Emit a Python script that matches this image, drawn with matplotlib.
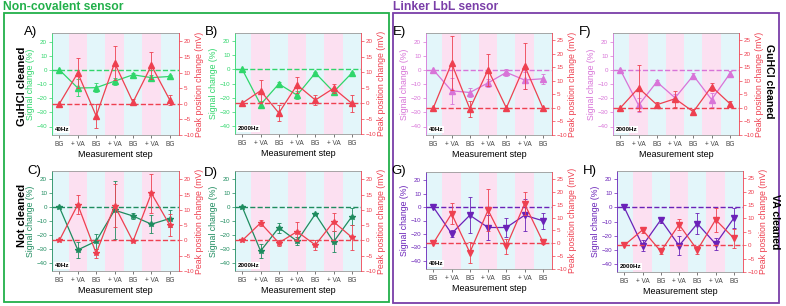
import matplotlib
matplotlib.use("Agg")
import matplotlib.pyplot as plt
from matplotlib.patches import Rectangle

plt.rcParams['font.family'] = ['Liberation Sans', 'DejaVu Sans']

steps = ['BG', '+ VA', 'BG', '+ VA', 'BG', '+ VA', 'BG']

# signal change (%) and peak position change (mV), with error bars
sig_A = [0, -12.8, -12.6, -8, -3.5, -5.5, -4.7]
sig_A_err = [0, 6, 3, 2.5, 1, 2, 1]
peak_A = [0, 9.9, -3.9, 13.1, 0.5, 12.3, 1.2]
peak_A_err = [0, 4.7, 3.8, 5.5, 1, 4.4, 1.7]

sig_B = [0, -25, -10.3, -18.3, -2.5, -16, -2.5]
sig_B_err = [0, 2.5, 1.5, 3, 1, 2, 1]
peak_B = [0, 4, -3.2, 5.9, 1, 4.8, -0.1]
peak_B_err = [0, 3.5, 2.5, 2.5, 1.5, 1.5, 2.8]

sig_C = [0, -30.8, -24.5, -2.2, -6.4, -12.3, -8.2]
sig_C_err = [0, 6, 5.5, 21, 2, 6.5, 6]
peak_C = [0, 11.7, -4.2, 11.4, -0.3, 15.4, 5]
peak_C_err = [0, 3.2, 1.5, 7, 0, 6.4, 3.5]

sig_D = [0, -31.6, -14.8, -24.5, -5, -25, -6.8]
sig_D_err = [0, 5, 3.5, 3, 1, 7.5, 6]
peak_D = [0, 5.7, -0.8, 2.9, -1.5, 6.1, 1]
peak_D_err = [0, 1, 1, 3.2, 1.5, 3, 4]

sig_E = [0, -14.8, -16, -9.2, -1.8, -7.2, -6.3]
sig_E_err = [0, 9, 3.5, 3, 2.5, 6, 3.5]
peak_E = [0, 16.5, -0.3, 14.1, 0, 15.6, 0]
peak_E_err = [0, 10, 3, 6, 0, 8.5, 0]

sig_F = [0, -25, -8.5, -19.8, -4, -21, -2.7]
sig_F_err = [0, 5, 1.5, 3, 1.5, 5, 2]
peak_F = [0, 7.4, 1.2, 3.4, -1.4, 7.9, 1.6]
peak_F_err = [0, 8.5, 1, 3, 1, 1.5, 1]

sig_G = [0, -19.7, -6.1, -15.2, -15.2, -6.1, -10.2]
sig_G_err = [0, 2.5, 13.5, 9, 7, 12, 6]
peak_G = [0, 11.5, -3.6, 12.9, -1.2, 15.3, 0.6]
peak_G_err = [0, 4.2, 4.2, 8, 2.8, 4.5, 1]

sig_H = [0, -27.2, -8.8, -27.2, -11.5, -26, -7.6]
sig_H_err = [0, 4, 2, 7, 7.5, 4.5, 7]
peak_H = [0, 5.7, -2.3, 7.7, -1.8, 9.5, 2.6]
peak_H_err = [0, 1, 1, 2, 1.5, 4.5, 3.5]

W, H = 786, 306
red = '#ee4050'
green = '#2fd66b'
teal = '#1e8c5f'
pink = '#d874d8'
purple = '#6a22b8'


def rect(l, t, r, b):
    return [l / W, 1 - b / H, (r - l) / W, (b - t) / H]


fig = plt.figure(figsize=(W / 100, H / 100), dpi=100)


def panel(pos, letter, freq, sig, sig_err, peak, peak_err, color, marker, ptop):
    ax = fig.add_axes(rect(*pos))
    x = list(range(len(steps)))
    for i in x:
        ax.axvspan(i - 0.5, i + 0.5, color='#fce0f1' if i % 2 else '#e3f6fa', lw=0, zorder=0)
    ax.set_xlim(-0.4, 6.5)
    ax.set_ylim(-46, 26)
    ax.axhline(0, color=color, ls='--', lw=1, zorder=1)
    ax.errorbar(x, sig, yerr=sig_err, color=color, marker=marker, ms=4, lw=0.9,
                elinewidth=0.6, capsize=1.5, capthick=0.6, zorder=3)
    ax.set_xticks(x)
    ax.set_xticklabels(steps)
    ax.set_yticks(range(-40, 21, 10))
    ax.tick_params(axis='x', labelsize=4.7, length=2, width=0.5, pad=2, colors='#444444')
    ax.tick_params(axis='y', labelsize=4.5, length=2, width=0.5, pad=1.5, colors=color)
    ax.set_xlabel('Measurement step', fontsize=6.5, labelpad=2)
    ax.set_ylabel('Signal change (%)', fontsize=6.3, color=color, labelpad=1)
    for s in ['top', 'bottom']:
        ax.spines[s].set_color('#999999')
        ax.spines[s].set_linewidth(0.6)
    ax.spines['left'].set_color(color)
    ax.spines['left'].set_linewidth(0.6)
    ax.spines['right'].set_visible(False)
    ax.text(0.02, 0.04, freq, transform=ax.transAxes, fontsize=4.5, weight='bold',
            zorder=5, bbox=dict(facecolor='white', edgecolor='none', pad=0.6))

    ax2 = ax.twinx()
    ax2.set_ylim(-10, ptop + 2.7)
    ax2.axhline(0, color=red, ls='--', lw=1, zorder=1)
    ax2.errorbar(x, peak, yerr=peak_err, color=red, marker=marker, ms=4, lw=0.9,
                 elinewidth=0.6, capsize=1.5, capthick=0.6, zorder=3)
    ax2.set_yticks(range(-10, ptop + 1, 5))
    ax2.tick_params(axis='y', labelsize=4.5, length=2, width=0.5, pad=1.2, colors=red)
    ax2.set_ylabel('Peak position change (mV)', fontsize=6.3, color=red, labelpad=1)
    ax2.spines['right'].set_color(red)
    ax2.spines['right'].set_linewidth(0.6)
    for s in ['top', 'bottom', 'left']:
        ax2.spines[s].set_visible(False)

    fig.text(letter[1] / W, 1 - letter[2] / H, letter[0], fontsize=9.5, ha='center', va='center')


panel((52, 33, 179, 135), ('A)', 31, 32), '40Hz', sig_A, sig_A_err, peak_A, peak_A_err, green, '^', 20)
panel((235, 33, 361, 134), ('B)', 211, 32), '2000Hz', sig_B, sig_B_err, peak_B, peak_B_err, green, '^', 20)
panel((52, 171, 179, 271), ('C)', 34, 171), '40Hz', sig_C, sig_C_err, peak_C, peak_C_err, teal, '*', 20)
panel((235, 171, 361, 271), ('D)', 211, 173), '2000Hz', sig_D, sig_D_err, peak_D, peak_D_err, teal, '*', 20)
panel((426, 33, 552, 135), ('E)', 399, 32), '40Hz', sig_E, sig_E_err, peak_E, peak_E_err, pink, '^', 25)
panel((613, 33, 739, 135), ('F)', 585, 32), '2000Hz', sig_F, sig_F_err, peak_F, peak_F_err, pink, '^', 25)
panel((426, 172, 552, 269), ('G)', 399, 171), '40Hz', sig_G, sig_G_err, peak_G, peak_G_err, purple, 'v', 25)
panel((617, 171, 743, 272), ('H)', 590, 171), '2000Hz', sig_H, sig_H_err, peak_H, peak_H_err, purple, 'v', 25)

# group boxes and titles
fig.patches.append(Rectangle((4 / W, 1 - 302 / H), 385 / W, 289 / H, transform=fig.transFigure,
                             fill=False, edgecolor='#22b04a', lw=1.3))
fig.patches.append(Rectangle((393 / W, 1 - 303 / H), 386 / W, 290 / H, transform=fig.transFigure,
                             fill=False, edgecolor='#7a3ea8', lw=1.3))
fig.text(3 / W, 1 - 7 / H, 'Non-covalent sensor', color='#22b04a', fontsize=8.7, weight='bold', va='center')
fig.text(393 / W, 1 - 7 / H, 'Linker LbL sensor', color='#7a3ea8', fontsize=8.7, weight='bold', va='center')

# row labels
fig.text(22 / W, 1 - 86 / H, 'GuHCl cleaned', fontsize=8, weight='bold', rotation=90, ha='center', va='center')
fig.text(22 / W, 1 - 215 / H, 'Not cleaned', fontsize=8, weight='bold', rotation=90, ha='center', va='center')
fig.text(769 / W, 1 - 81 / H, 'GuHCl cleaned', fontsize=7.6, weight='bold', rotation=-90, ha='center', va='center')
fig.text(775 / W, 1 - 222 / H, 'VA cleaned', fontsize=7.6, weight='bold', rotation=-90, ha='center', va='center')

fig.savefig('out.png', dpi=100)
